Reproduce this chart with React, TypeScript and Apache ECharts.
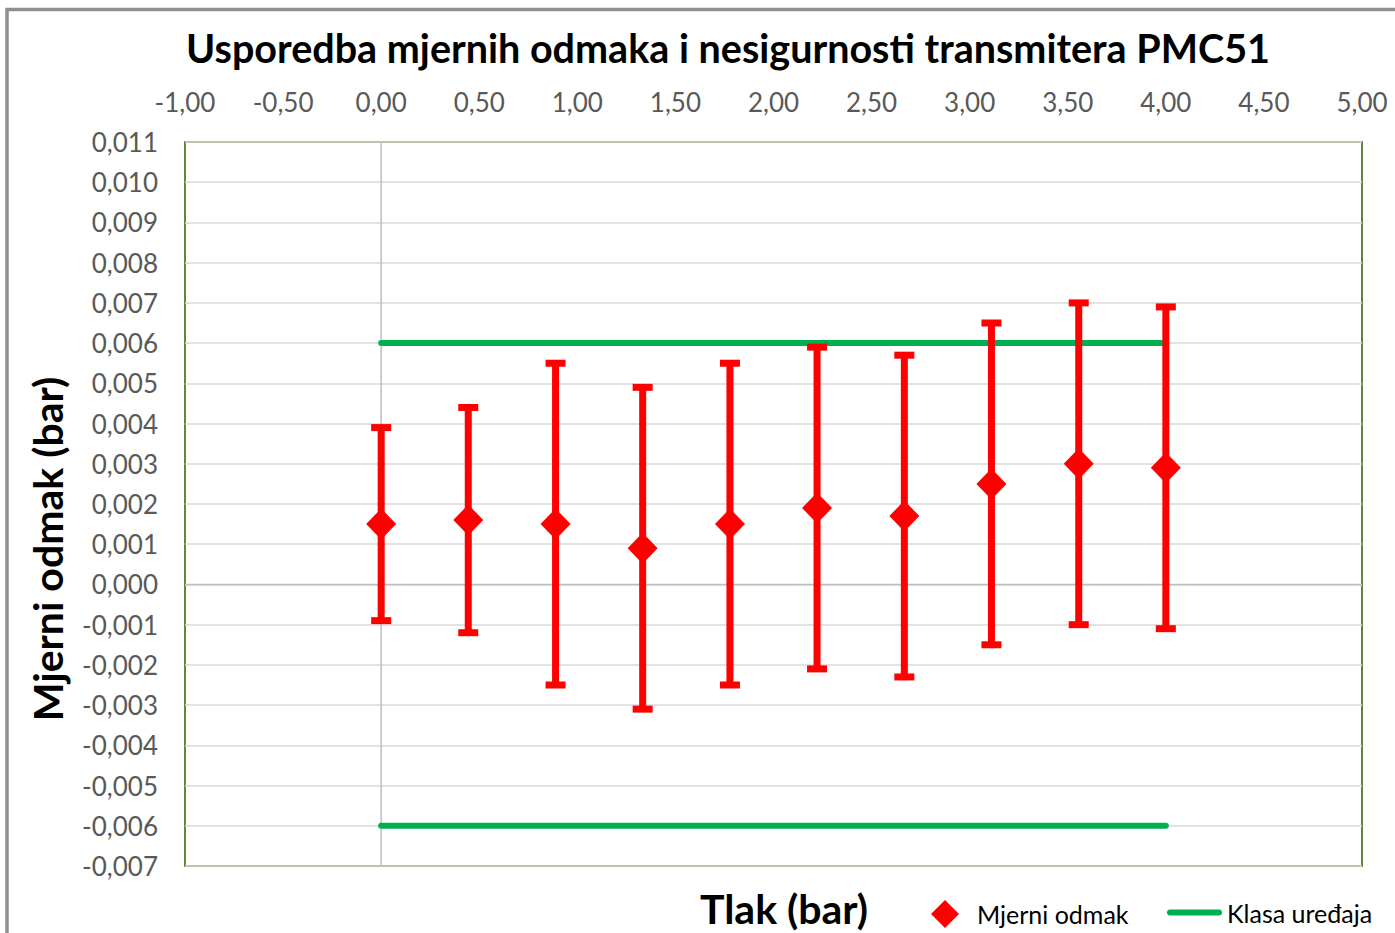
import React, { useEffect, useRef } from "react";
import * as echarts from "echarts";

const pressures = [0, 0.444, 0.889, 1.333, 1.778, 2.222, 2.667, 3.111, 3.556, 4.0];
const offsets = [0.0015, 0.0016, 0.0015, 0.0009, 0.0015, 0.0019, 0.0017, 0.0025, 0.003, 0.0029];
const uncertainties = [0.0024, 0.0028, 0.004, 0.004, 0.004, 0.004, 0.004, 0.004, 0.004, 0.004];
const classLimit = 0.006;
const classRange = [0, 4];
const xRange = [-1, 5];
const yRange = [-0.007, 0.011];

const TITLE = "Usporedba mjernih odmaka i nesigurnosti transmitera PMC51";
const X_NAME = "Tlak (bar)";
const Y_NAME = "Mjerni odmak (bar)";
const S_OFFSET = "Mjerni odmak";
const S_CLASS = "Klasa uređaja";

const FONT = "Lato, 'Open Sans', sans-serif";

const fmt = (v: number, d: number) => {
  const n = Math.abs(v) < 1e-9 ? 0 : v;
  return n.toFixed(d).replace(".", ",");
};

export default function App() {
  const ref = useRef<HTMLDivElement>(null);
  useEffect(() => {
    if (!ref.current) return;
    const chart = echarts.init(ref.current, null, { renderer: "svg" });
    const points = pressures.map((x, i) => [x, offsets[i]]);
    const bars = pressures.map((x, i) => [x, offsets[i] - uncertainties[i], offsets[i] + uncertainties[i]]);
    const red = "#ff0000";
    const axisLineStyle = { color: "#bfbfbf", width: 1.5 };
    chart.setOption({
      animation: false,
      backgroundColor: "#ffffff",
      textStyle: { fontFamily: FONT },
      grid: {
        left: 185,
        top: 142,
        width: 1177,
        height: 724,
        show: true,
        borderColor: "#5b8a3c",
        borderWidth: 2,
        containLabel: false,
      },
      graphic: [
        {
          type: "rect",
          shape: { x: 7, y: 9.5, width: 1500, height: 1000 },
          style: { fill: "none", stroke: "#8f8f8f", lineWidth: 3.5 },
          silent: true,
        },
        {
          type: "text",
          x: 728,
          y: 47,
          style: {
            text: TITLE,
            fill: "#000000",
            font: `bold 39.5px ${FONT}`,
            textAlign: "center",
            textVerticalAlign: "middle",
          },
        },
        {
          type: "text",
          x: 784,
          y: 908,
          style: {
            text: X_NAME,
            fill: "#000000",
            font: `bold 41px ${FONT}`,
            textAlign: "center",
            textVerticalAlign: "middle",
          },
        },
        {
          type: "text",
          x: 47,
          y: 549,
          rotation: Math.PI / 2,
          style: {
            text: Y_NAME,
            fill: "#000000",
            font: `bold 41px ${FONT}`,
            textAlign: "center",
            textVerticalAlign: "middle",
          },
        },
      ],
      legend: [
        {
          data: [{ name: S_OFFSET, icon: "diamond" }],
          left: 926,
          top: 895,
          itemWidth: 28,
          itemHeight: 28,
          textStyle: { fontSize: 25, color: "#000000", fontFamily: FONT, padding: [0, 0, 0, 13] },
        },
        {
          data: [{ name: S_CLASS, icon: "path://M3,0 H52 A3,3 0 0 1 52,6 H3 A3,3 0 0 1 3,0 Z" }],
          left: 1162,
          top: 895,
          itemWidth: 55,
          itemHeight: 6,
          textStyle: { fontSize: 25, color: "#000000", fontFamily: FONT },
        },
      ],
      xAxis: {
        type: "value",
        position: "top",
        min: xRange[0],
        max: xRange[1],
        interval: 0.5,
        axisLine: { show: false },
        axisTick: { show: false },
        splitLine: { show: false },
        axisLabel: {
          color: "#595959",
          fontSize: 26,
          fontFamily: FONT,
          margin: 27,
          formatter: (v: number) => fmt(v, 2),
        },
      },
      yAxis: {
        type: "value",
        min: yRange[0],
        max: yRange[1],
        interval: 0.001,
        axisLine: { show: false },
        axisTick: { show: false },
        splitLine: { show: true, lineStyle: { color: "#d9d9d9", width: 1.5 } },
        axisLabel: {
          color: "#595959",
          fontSize: 26,
          fontFamily: FONT,
          margin: 27,
          formatter: (v: number) => fmt(v, 3),
        },
      },
      series: [
        {
          name: "axisX0",
          type: "line",
          data: [
            [0, yRange[0]],
            [0, yRange[1]],
          ],
          symbol: "none",
          silent: true,
          lineStyle: axisLineStyle,
          z: 0,
        },
        {
          name: "axisY0",
          type: "line",
          data: [
            [xRange[0], 0],
            [xRange[1], 0],
          ],
          symbol: "none",
          silent: true,
          lineStyle: axisLineStyle,
          z: 0,
        },
        {
          name: S_CLASS,
          type: "line",
          data: [
            [classRange[0], classLimit],
            [classRange[1], classLimit],
          ],
          symbol: "none",
          color: "#00b050",
          lineStyle: { color: "#00b050", width: 6, cap: "round" },
          z: 1,
        },
        {
          name: S_CLASS,
          type: "line",
          data: [
            [classRange[0], -classLimit],
            [classRange[1], -classLimit],
          ],
          symbol: "none",
          color: "#00b050",
          lineStyle: { color: "#00b050", width: 6, cap: "round" },
          z: 1,
        },
        {
          name: "errorbars",
          type: "custom",
          data: bars,
          encode: { x: 0, y: [1, 2] },
          z: 3,
          renderItem: (params: any, api: any) => {
            const x = api.value(0);
            const lo = api.value(1);
            const hi = api.value(2);
            const top = api.coord([x, hi]);
            const bot = api.coord([x, lo]);
            const half = 10;
            const st = { stroke: red, lineWidth: 7, lineCap: "butt" };
            return {
              type: "group",
              children: [
                { type: "line", shape: { x1: top[0], y1: top[1], x2: bot[0], y2: bot[1] }, style: st },
                { type: "line", shape: { x1: top[0] - half, y1: top[1], x2: top[0] + half, y2: top[1] }, style: st },
                { type: "line", shape: { x1: bot[0] - half, y1: bot[1], x2: bot[0] + half, y2: bot[1] }, style: st },
              ],
            };
          },
        },
        {
          name: S_OFFSET,
          type: "scatter",
          data: points,
          symbol: "diamond",
          symbolSize: [30, 31],
          color: red,
          itemStyle: { color: red, opacity: 1 },
          z: 4,
        },
      ],
    });
    return () => chart.dispose();
  }, []);
  return (
    <div
      ref={ref}
      style={{ position: "fixed", left: 0, top: 0, width: 1395, height: 933, background: "#fff" }}
    />
  );
}
